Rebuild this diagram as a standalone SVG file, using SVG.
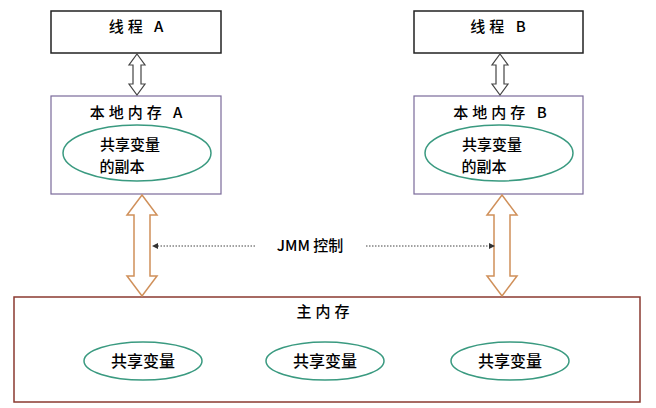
<svg xmlns="http://www.w3.org/2000/svg" width="656" height="408" viewBox="0 0 656 408">
<style>
text{font-family:"Noto Sans CJK SC","Liberation Sans",sans-serif;fill:#000;text-anchor:middle;font-weight:500}
.t{font-size:15px;letter-spacing:4px}
.s{font-size:16px}
.c{font-size:15px}
.e{fill:none;stroke:#3a9a80;stroke-width:1.5}
.oa{fill:#fff;stroke:#d0905a;stroke-width:1.5}
.ga{fill:#fff;stroke:#444;stroke-width:1.2}
</style>
<defs><marker id="m" markerWidth="6" markerHeight="6" refX="5" refY="3" orient="auto"><path d="M0,0L6,3L0,6z" fill="#333"/></marker></defs>
<rect width="656" height="408" fill="#fff"/>
<g id="threadA"><rect x="51" y="11" width="170" height="42" fill="#fff" stroke="#222" stroke-width="1.5"/><text class="t" x="138" y="32">线程 A</text></g>
<g id="threadB"><rect x="414" y="11" width="169" height="42" fill="#fff" stroke="#222" stroke-width="1.5"/><text class="t" x="500" y="32">线程 B</text></g>
<g id="localA"><rect x="51" y="96" width="170" height="98" fill="#fff" stroke="#7a6a9a" stroke-width="1.2"/><text class="t" x="138" y="118">本地内存 A</text>
<ellipse class="e" cx="137" cy="153" rx="74" ry="28"/><text class="c" x="130" y="150">共享变量</text><text class="c" x="122" y="172">的副本</text></g>
<g id="localB"><rect x="414" y="96" width="169" height="98" fill="#fff" stroke="#7a6a9a" stroke-width="1.2"/><text class="t" x="502" y="118">本地内存 B</text>
<ellipse class="e" cx="499" cy="153" rx="74" ry="28"/><text class="c" x="492" y="150">共享变量</text><text class="c" x="484" y="172">的副本</text></g>
<g id="main"><rect x="14" y="297" width="626" height="105" fill="#fff" stroke="#8a3a30" stroke-width="1.5"/><text class="t" x="325" y="317">主内存</text>
<ellipse class="e" cx="143" cy="361" rx="59" ry="19"/><text class="s" x="143" y="367">共享变量</text>
<ellipse class="e" cx="325" cy="361" rx="59" ry="19"/><text class="s" x="325" y="367">共享变量</text>
<ellipse class="e" cx="510" cy="361" rx="59" ry="19"/><text class="s" x="510" y="367">共享变量</text></g>
<g id="connectors">
<path class="ga" d="M137,54L145,65L141,65L141,84L145,84L137,95L129,84L133,84L133,65L129,65Z"/>
<path class="ga" d="M500,54L508,65L504,65L504,84L508,84L500,95L492,84L496,84L496,65L492,65Z"/>
<path class="oa" d="M142,195L157,215L150,215L150,276L157,276L142,296L127,276L134,276L134,215L127,215Z"/>
<path class="oa" d="M502,195L517,215L510,215L510,276L517,276L502,296L487,276L494,276L494,215L487,215Z"/>
<line x1="255" y1="246" x2="153" y2="246" stroke="#444" stroke-dasharray="1.5,1.5" marker-end="url(#m)"/>
<line x1="366" y1="246" x2="494" y2="246" stroke="#444" stroke-dasharray="1.5,1.5" marker-end="url(#m)"/>
</g>
<text x="310" y="251" font-size="15" font-family="Liberation Serif,Noto Sans CJK SC,serif">JMM 控制</text>
</svg>
